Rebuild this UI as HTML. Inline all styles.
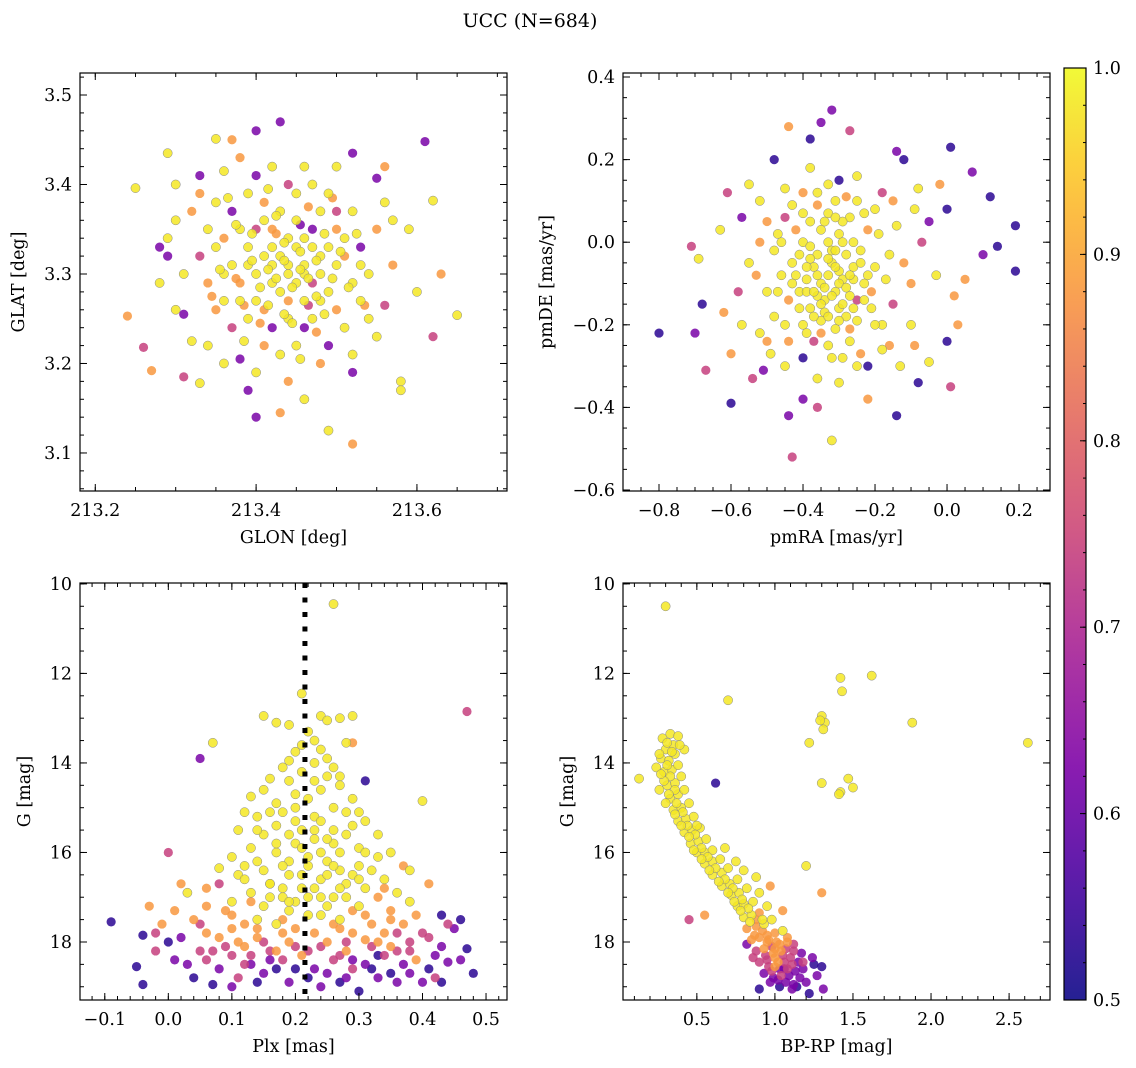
<!DOCTYPE html>
<html><head><meta charset="utf-8">
<style>
body{margin:0;background:#fff;}
svg{display:block;font-family:"DejaVu Serif","Liberation Serif",serif;}
</style></head>
<body>
<svg id="fig" width="1136" height="1068" viewBox="0 0 1136 1068">
<text x="530" y="27" text-anchor="middle" font-size="19">UCC (N=684)</text>
<g id="layer"></g>
</svg>
<script>
const Y=0.98,O=0.88,M=0.74,P=0.62,D=0.53;
const p1pts=[[213.25,3.396,Y],[213.24,3.253,O],[213.27,3.192,O],[213.26,3.218,M],[213.29,3.435,Y],[213.28,3.33,P],[213.31,3.185,M],[213.33,3.178,Y],[213.35,3.451,Y],[213.37,3.45,O],[213.40,3.46,P],[213.43,3.47,P],[213.40,3.14,P],[213.43,3.145,O],[213.49,3.125,Y],[213.52,3.11,O],[213.58,3.18,Y],[213.61,3.448,P],[213.65,3.254,Y],[213.62,3.382,Y],[213.63,3.30,O],[213.56,3.42,O],[213.52,3.435,P],[213.55,3.407,P],[213.57,3.36,Y],[213.59,3.35,Y],[213.62,3.23,M],[213.56,3.265,M],[213.52,3.19,P],[213.30,3.26,Y],[213.31,3.255,P],[213.29,3.32,P],[213.32,3.37,O],[213.35,3.33,Y],[213.38,3.205,P],[213.39,3.17,P],[213.46,3.16,Y],[213.48,3.20,O],[213.55,3.23,Y],[213.32,3.225,Y],[213.30,3.40,Y],[213.33,3.41,P],[213.36,3.415,Y],[213.38,3.43,O],[213.42,3.42,Y],[213.46,3.42,Y],[213.49,3.39,Y],[213.50,3.37,M],[213.58,3.17,Y],[213.60,3.28,Y],[213.54,3.30,Y],[213.53,3.33,P],[213.34,3.29,O],[213.36,3.27,Y],[213.37,3.24,M],[213.34,3.35,Y],[213.31,3.30,Y],[213.29,3.34,Y],[213.33,3.32,M],
[213.40,3.30,Y],[213.42,3.31,Y],[213.44,3.30,Y],[213.46,3.31,Y],[213.45,3.29,Y],[213.43,3.28,Y],[213.41,3.32,Y],[213.47,3.33,Y],[213.44,3.34,Y],[213.42,3.35,O],[213.48,3.30,Y],[213.50,3.31,Y],[213.49,3.28,Y],[213.46,3.27,Y],[213.40,3.27,Y],[213.38,3.29,O],[213.39,3.33,Y],[213.41,3.36,Y],[213.45,3.36,Y],[213.47,3.35,P],[213.51,3.34,Y],[213.52,3.29,Y],[213.50,3.26,O],[213.47,3.25,Y],[213.44,3.25,Y],[213.42,3.24,P],[213.39,3.25,Y],[213.37,3.31,Y],[213.36,3.34,O],[213.43,3.32,Y],[213.45,3.33,Y],[213.47,3.29,M],[213.44,3.27,O],[213.42,3.29,Y],[213.48,3.32,Y],[213.46,3.34,Y],[213.43,3.37,Y],[213.41,3.38,O],[213.45,3.39,Y],[213.48,3.37,Y],[213.50,3.35,O],[213.53,3.27,Y],[213.51,3.24,Y],[213.49,3.22,P],[213.45,3.22,Y],[213.41,3.22,O],[213.38,3.27,Y],[213.35,3.26,O],[213.37,3.37,P],[213.39,3.39,Y],[213.44,3.40,M],[213.47,3.40,Y],[213.52,3.37,Y],[213.55,3.35,O],[213.54,3.25,Y],[213.40,3.35,M],[213.46,3.24,P],[213.43,3.21,Y],[213.48,3.27,Y],[213.41,3.26,O],[213.44,3.31,Y],[213.46,3.30,Y],[213.42,3.33,Y],[213.39,3.31,Y],[213.36,3.30,Y],[213.38,3.35,Y],[213.49,3.33,Y],[213.51,3.32,O],[213.53,3.31,Y],[213.35,3.38,Y],[213.33,3.39,O],[213.40,3.41,P],[213.50,3.42,Y],[213.30,3.36,Y],[213.28,3.29,Y],[213.57,3.31,O],[213.56,3.38,Y],[213.34,3.22,Y],[213.52,3.21,Y],[213.40,3.19,Y],[213.44,3.18,O],[213.36,3.20,Y],
[213.415,3.305,Y],[213.435,3.315,Y],[213.455,3.305,Y],[213.425,3.295,Y],[213.445,3.285,Y],[213.465,3.295,Y],[213.405,3.285,Y],[213.475,3.315,Y],[213.435,3.335,Y],[213.455,3.325,Y],[213.425,3.345,O],[213.485,3.345,Y],[213.395,3.315,Y],[213.375,3.295,O],[213.495,3.295,Y],[213.505,3.325,Y],[213.415,3.265,Y],[213.465,3.265,M],[213.435,3.255,Y],[213.485,3.255,Y],[213.395,3.345,Y],[213.455,3.355,P],[213.475,3.275,Y],[213.385,3.265,O],[213.425,3.365,Y],[213.465,3.375,O],[213.515,3.285,Y],[213.445,3.245,Y],[213.405,3.245,O],[213.375,3.355,Y],[213.355,3.305,Y],[213.345,3.275,O],[213.525,3.345,Y],[213.415,3.395,Y],[213.475,3.235,O],[213.365,3.385,Y],[213.495,3.385,O],[213.535,3.265,O],[213.385,3.225,Y],[213.455,3.205,Y]];

const p2pts=[[-0.8,-0.22,D],[-0.7,-0.22,P],[-0.67,-0.31,M],[-0.68,-0.15,D],[-0.69,-0.04,Y],[-0.71,-0.01,M],[-0.63,0.03,Y],[-0.61,0.12,M],[-0.55,0.14,Y],[-0.48,0.2,D],[-0.44,0.28,O],[-0.38,0.25,D],[-0.35,0.29,P],[-0.32,0.32,P],[-0.27,0.27,M],[-0.14,0.22,P],[-0.12,0.2,D],[0.01,0.23,D],[0.07,0.17,P],[0.12,0.11,D],[0.19,0.04,D],[0.19,-0.07,D],[0.14,-0.01,D],[0.1,-0.03,P],[0.05,-0.09,O],[0.02,-0.13,O],[0.03,-0.2,O],[0.0,-0.24,D],[0.01,-0.35,M],[-0.05,-0.29,Y],[-0.08,-0.34,D],[-0.14,-0.42,D],[-0.32,-0.48,Y],[-0.43,-0.52,M],[-0.44,-0.42,P],[-0.4,-0.38,P],[-0.36,-0.4,M],[-0.51,-0.31,P],[-0.54,-0.33,M],[-0.6,-0.39,D],[-0.6,-0.27,O],[-0.57,-0.2,Y],[-0.5,-0.24,O],[-0.22,-0.38,O],[-0.22,-0.3,D],[-0.1,-0.2,Y],[-0.03,-0.08,Y],[0.0,0.08,D],[-0.57,0.06,P],[-0.52,0.1,Y],[-0.45,0.06,M],[-0.4,0.12,O],[-0.3,0.15,D],[-0.25,0.16,Y],[-0.18,0.12,M],[-0.15,0.1,O],[-0.08,0.13,Y],[-0.05,0.05,P],[-0.12,-0.05,O],[-0.15,-0.15,M],[-0.18,-0.26,Y],[-0.3,-0.34,Y],[-0.4,-0.28,D],[-0.48,-0.18,Y],[-0.53,-0.08,O],[-0.58,-0.12,M],[-0.47,0.02,Y],
[-0.35,-0.1,Y],[-0.33,-0.08,Y],[-0.31,-0.12,Y],[-0.29,-0.09,Y],[-0.37,-0.06,Y],[-0.34,-0.14,Y],[-0.3,-0.16,Y],[-0.27,-0.13,Y],[-0.26,-0.06,Y],[-0.28,-0.03,Y],[-0.32,-0.02,Y],[-0.36,-0.03,Y],[-0.39,-0.09,Y],[-0.41,-0.12,Y],[-0.38,-0.16,Y],[-0.35,-0.19,Y],[-0.31,-0.21,Y],[-0.25,-0.19,Y],[-0.23,-0.1,Y],[-0.24,-0.02,Y],[-0.3,0.02,Y],[-0.35,0.03,Y],[-0.4,0.0,Y],[-0.43,-0.05,Y],[-0.44,-0.14,O],[-0.4,-0.2,Y],[-0.33,-0.25,Y],[-0.27,-0.24,Y],[-0.21,-0.16,Y],[-0.2,-0.06,Y],[-0.22,0.03,O],[-0.27,0.06,Y],[-0.33,0.07,Y],[-0.38,0.05,Y],[-0.42,0.03,O],[-0.46,-0.08,Y],[-0.45,-0.2,Y],[-0.37,-0.24,M],[-0.29,-0.28,Y],[-0.24,-0.27,O],[-0.18,-0.2,Y],[-0.17,-0.09,Y],[-0.19,0.02,Y],[-0.25,0.1,Y],[-0.31,0.1,Y],[-0.36,0.09,O],[-0.43,0.09,Y],[-0.48,-0.02,Y],[-0.5,-0.12,Y],[-0.32,-0.05,Y],[-0.34,-0.17,Y],[-0.28,-0.18,Y],[-0.25,-0.14,M],[-0.39,-0.12,Y],[-0.36,-0.13,Y],[-0.3,-0.07,Y],[-0.26,-0.09,Y],[-0.33,0.0,Y],[-0.29,0.05,Y],[-0.38,-0.04,Y],[-0.42,-0.08,Y],[-0.35,-0.22,O],[-0.26,0.0,Y],[-0.21,-0.12,O],[-0.16,-0.03,Y],[-0.14,0.04,Y],[-0.1,-0.1,O],[-0.52,0.0,O],[-0.55,-0.05,Y],[-0.5,0.05,O],[-0.45,0.13,Y],[-0.38,0.18,Y],[-0.33,0.14,Y],[-0.2,0.08,Y],[-0.16,-0.25,O],[-0.13,-0.3,Y],[-0.09,-0.25,O],[-0.45,-0.3,Y],[-0.36,-0.33,Y],[-0.52,-0.22,Y],[-0.62,-0.17,O],[-0.07,0.0,M],[-0.02,0.14,O],[-0.09,0.08,Y],
[-0.34,-0.11,Y],[-0.32,-0.13,Y],[-0.3,-0.1,Y],[-0.36,-0.08,Y],[-0.28,-0.11,Y],[-0.33,-0.04,Y],[-0.31,-0.06,Y],[-0.37,-0.12,Y],[-0.35,-0.15,Y],[-0.29,-0.15,Y],[-0.27,-0.08,Y],[-0.39,-0.06,Y],[-0.33,-0.18,Y],[-0.31,-0.02,Y],[-0.37,-0.18,Y],[-0.26,-0.16,Y],[-0.41,-0.03,Y],[-0.24,-0.05,Y],[-0.38,-0.01,Y],[-0.29,0.0,Y],[-0.34,0.05,Y],[-0.3,-0.19,Y],[-0.41,-0.16,Y],[-0.43,-0.1,Y],[-0.23,-0.14,Y],[-0.27,-0.21,O],[-0.39,-0.22,Y],[-0.32,-0.28,Y],[-0.44,-0.24,O],[-0.47,-0.12,Y],[-0.46,0.0,Y],[-0.4,0.07,Y],[-0.31,0.06,Y],[-0.22,-0.08,Y],[-0.2,-0.2,Y],[-0.25,-0.3,Y],[-0.36,0.12,Y],[-0.28,0.11,O],[-0.23,0.07,Y],[-0.49,-0.27,Y]];

const p3pts=[[0.26,10.45,Y],[0.47,12.85,M],[0.07,13.55,Y],[0.05,13.9,P],[0.0,16.0,M],[0.31,14.4,D],[0.4,14.85,Y],[0.15,12.95,Y],[0.17,13.1,Y],[0.19,13.15,Y],[0.21,12.45,Y],[0.24,12.95,Y],[0.25,13.05,Y],[0.27,13.0,Y],[0.29,12.95,Y],[0.28,13.55,Y],[0.29,13.55,O],[0.22,13.3,Y],[0.23,13.5,Y],[0.24,13.7,Y],[0.25,13.9,Y],[0.2,13.75,Y],[0.19,13.95,Y],[0.18,14.1,Y],[0.21,14.2,Y],[0.26,14.1,Y],[0.27,14.3,Y],[0.23,14.4,Y],[0.19,14.4,Y],[0.16,14.35,Y],[0.15,14.6,Y],[0.13,14.75,Y],[0.12,15.1,Y],[0.11,15.5,Y],[0.14,15.2,Y],[0.17,14.9,Y],[0.2,14.7,Y],[0.24,14.6,Y],[0.27,14.5,Y],[0.29,14.8,Y],[0.28,15.1,Y],[0.26,15.0,Y],[0.23,15.2,Y],[0.2,15.3,Y],[0.17,15.4,Y],[0.15,15.6,Y],[0.13,15.9,Y],[0.1,16.1,Y],[0.08,16.35,Y],[0.11,16.5,Y],[0.14,16.2,Y],[0.17,16.0,Y],[0.2,15.8,Y],[0.23,15.7,Y],[0.26,15.5,Y],[0.29,15.4,Y],[0.31,15.3,Y],[0.33,15.6,Y],[0.3,15.9,Y],[0.27,16.0,Y],[0.25,16.2,Y],[0.22,16.3,Y],[0.19,16.5,Y],[0.16,16.7,Y],[0.13,16.9,Y],[0.1,17.1,Y],[0.15,17.2,Y],[0.18,17.0,Y],[0.21,16.8,Y],[0.24,16.6,Y],[0.27,16.4,Y],[0.3,16.3,Y],[0.33,16.1,Y],[0.35,16.0,Y],[0.37,16.3,O],[0.34,16.6,Y],[0.31,16.8,Y],[0.28,17.0,Y],[0.25,17.2,Y],[0.22,17.4,Y],[0.19,17.3,Y],[0.17,17.6,Y],[0.12,17.6,O],[0.09,17.3,O],[0.06,17.8,O],[0.27,17.5,Y],[0.3,17.2,Y],[0.33,17.0,O],[0.36,16.9,Y],[0.38,17.1,Y],[0.39,17.4,O],[0.35,17.5,O],[0.32,17.6,O],[0.23,17.8,O],[0.2,17.7,O],[0.14,17.9,O],[0.11,18.0,O],[0.05,17.6,M],[0.02,17.9,P],[-0.02,17.8,M],[-0.04,17.85,D],[-0.09,17.55,D],[-0.05,18.55,D],[-0.04,18.95,D],[-0.02,18.2,M],[0.0,18.0,D],[0.03,18.5,P],[0.06,18.4,M],[0.08,18.6,P],[0.1,18.3,M],[0.12,18.1,O],[0.13,18.5,P],[0.15,18.7,P],[0.16,18.2,M],[0.18,18.4,M],[0.19,18.9,P],[0.21,18.3,O],[0.23,18.6,P],[0.24,18.1,M],[0.25,18.7,P],[0.26,18.4,M],[0.27,18.9,D],[0.28,18.2,O],[0.29,18.6,M],[0.31,18.5,P],[0.32,18.1,M],[0.33,18.8,P],[0.34,18.3,M],[0.35,18.7,D],[0.36,18.2,M],[0.37,18.5,P],[0.38,18.0,M],[0.39,18.4,O],[0.4,18.9,P],[0.41,17.9,M],[0.42,18.3,P],[0.43,17.4,D],[0.44,17.6,M],[0.45,17.7,P],[0.46,17.5,D],[0.47,18.15,D],[0.48,18.7,D],[0.44,18.45,P],[0.41,18.6,D],[0.3,19.1,D],[0.31,17.95,O],[0.29,17.8,O],[0.07,18.95,D],[0.03,16.9,Y],[0.06,16.8,O],[0.01,17.3,O],[-0.03,17.2,O],[0.02,16.7,O],[0.08,16.7,M],[0.1,17.4,O],[0.14,17.5,Y],[0.12,16.6,Y],[0.35,17.3,O],[0.37,17.6,O],[0.4,17.8,M],[0.38,16.4,Y],[0.41,16.7,O],[0.17,15.8,Y],[0.18,15.1,Y],[0.21,15.5,Y],[0.24,15.3,Y],[0.26,15.8,Y],[0.22,16.1,Y],[0.19,16.2,Y],[0.25,16.5,Y],[0.28,16.7,Y],[0.16,16.7,Y],[0.2,17.1,Y],[0.24,17.0,Y],[0.26,17.6,O],[0.18,17.8,O],[0.15,18.0,M],[0.09,18.1,M],[0.2,18.1,M],[0.22,18.8,D],[0.17,18.6,D],[0.11,18.8,M],[0.05,18.2,M],[0.34,17.8,O],[0.28,18.0,M],[0.33,18.3,D],[0.36,18.9,P],[0.42,18.8,M],[0.43,18.1,P],
[0.21,13.6,Y],[0.23,14.0,Y],[0.22,14.8,Y],[0.25,14.3,Y],[0.2,15.0,Y],[0.23,15.5,Y],[0.19,15.6,Y],[0.25,15.7,Y],[0.21,15.9,Y],[0.18,16.3,Y],[0.24,16.0,Y],[0.26,16.3,Y],[0.21,16.5,Y],[0.23,16.8,Y],[0.18,16.8,Y],[0.15,16.4,Y],[0.27,16.8,Y],[0.29,16.5,Y],[0.31,16.0,Y],[0.3,16.6,Y],[0.32,16.4,Y],[0.14,15.5,Y],[0.16,15.1,Y],[0.28,15.6,Y],[0.3,15.1,Y],[0.22,17.0,Y],[0.19,17.1,Y],[0.26,17.0,Y],[0.16,17.0,Y],[0.13,17.1,O],[0.12,16.3,Y],[0.34,16.8,O],[0.29,17.3,O],[0.24,17.4,Y],[0.18,17.5,O],[0.14,17.7,O],[0.08,17.9,O],[0.04,17.5,O],[0.1,17.7,O],[0.27,17.7,O],[0.31,17.4,O],[0.36,17.8,M],[0.38,18.2,M],[0.33,18.0,O],[0.25,18.0,O],[0.22,18.2,M],[0.17,18.2,O],[0.13,18.3,M],[0.07,18.2,M],[0.01,18.4,P],[0.04,18.8,D],[0.1,19.0,P],[0.14,18.9,D],[0.2,18.6,D],[0.24,19.0,P],[0.28,18.8,P],[0.32,18.6,D],[0.38,18.7,P],[0.43,18.9,D],[0.46,18.4,P],[0.35,18.1,O],[0.27,18.3,M],[0.19,18.0,O],[0.12,18.5,M],[-0.01,17.6,O],[0.06,17.2,O],[0.16,18.4,P],[0.29,18.4,P]];

const p4pts=[[0.3,10.5,Y],[0.7,12.6,Y],[1.42,12.1,Y],[1.62,12.05,Y],[1.43,12.4,Y],[1.3,12.95,Y],[1.32,13.1,Y],[1.31,13.25,Y],[1.29,13.05,Y],[1.88,13.1,Y],[2.62,13.55,Y],[1.22,13.55,Y],[1.47,14.35,Y],[1.5,14.55,Y],[1.42,14.65,Y],[1.3,14.45,Y],[1.41,14.7,Y],[1.2,16.3,Y],[1.3,16.9,O],[0.45,17.5,M],[0.55,17.4,O],[0.62,14.45,D],[0.13,14.35,Y],
[0.28,13.45,Y],[0.33,13.35,Y],[0.38,13.4,Y],[0.3,13.7,Y],[0.35,13.6,Y],[0.27,13.9,Y],[0.32,13.95,Y],[0.36,13.8,Y],[0.29,14.2,Y],[0.34,14.15,Y],[0.38,14.05,Y],[0.31,14.5,Y],[0.36,14.45,Y],[0.4,14.3,Y],[0.33,14.8,Y],[0.38,14.7,Y],[0.42,14.6,Y],[0.35,15.05,Y],[0.4,15.0,Y],[0.45,14.9,Y],[0.38,15.3,Y],[0.43,15.25,Y],[0.48,15.2,Y],[0.42,15.55,Y],[0.47,15.5,Y],[0.52,15.45,Y],[0.46,15.8,Y],[0.51,15.75,Y],[0.56,15.7,Y],[0.5,16.0,Y],[0.55,16.0,Y],[0.6,15.95,Y],[0.55,16.25,Y],[0.6,16.2,Y],[0.65,16.15,Y],[0.6,16.5,Y],[0.66,16.45,Y],[0.7,16.35,Y],[0.66,16.75,Y],[0.71,16.7,Y],[0.76,16.6,Y],[0.72,16.95,Y],[0.77,16.9,Y],[0.82,16.8,Y],[0.76,17.2,Y],[0.8,17.15,Y],[0.86,17.1,Y],[0.8,17.45,Y],[0.85,17.4,Y],[0.9,17.35,O],[0.82,17.7,O],[0.88,17.65,O],[0.93,17.6,Y],[0.98,17.5,Y],[0.85,17.95,O],[0.9,17.9,O],[0.95,17.85,O],[1.0,17.8,O],[1.05,17.75,Y],[0.82,18.05,P],[0.88,18.2,M],[0.93,18.15,O],[0.98,18.1,M],[1.03,18.05,O],[1.08,18.0,O],[1.12,18.2,M],[0.9,18.45,M],[0.95,18.4,M],[1.0,18.35,O],[1.05,18.3,M],[1.1,18.35,M],[1.15,18.45,P],[0.93,18.7,P],[0.98,18.65,M],[1.03,18.6,P],[1.08,18.6,M],[1.13,18.65,P],[1.18,18.6,P],[1.25,18.5,D],[0.97,18.9,P],[1.02,18.85,P],[1.07,18.9,P],[1.12,18.95,P],[1.2,18.9,P],[0.9,19.05,D],[1.03,19.0,D],[1.11,19.05,P],[1.22,19.15,D],[1.31,19.05,P],[1.3,18.55,D],[0.75,16.2,Y],[0.8,16.4,Y],[0.9,16.9,Y],[0.95,17.2,Y],[0.97,16.75,O],[1.05,17.3,O],[0.88,16.55,Y],[0.68,15.9,Y],[0.5,15.4,Y],[0.3,14.9,Y],[0.26,14.6,Y],[0.42,13.7,Y],[0.24,14.1,Y],[1.0,18.55,O],[1.07,18.15,M],[0.92,17.5,Y],
[0.31,13.55,Y],[0.34,13.75,Y],[0.31,14.05,Y],[0.33,14.3,Y],[0.36,14.6,Y],[0.37,14.9,Y],[0.41,15.1,Y],[0.44,15.4,Y],[0.49,15.6,Y],[0.53,15.9,Y],[0.57,16.1,Y],[0.62,16.35,Y],[0.68,16.6,Y],[0.73,16.8,Y],[0.79,17.05,Y],[0.83,17.25,Y],[0.88,17.5,O],[0.92,17.75,O],[0.96,17.95,O],[1.01,18.0,O],[1.04,18.2,O],[0.94,18.3,M],[0.99,18.25,O],[1.06,18.45,M],[1.11,18.5,M],[1.02,18.45,O],[0.96,18.55,M],[1.09,18.75,P],[1.16,18.8,P],[1.04,18.75,M],[0.99,18.8,P],[1.14,19.0,D],[1.27,18.75,P],[0.87,17.85,O],[0.84,17.55,Y],[0.78,17.3,Y],[0.74,17.1,Y],[0.7,16.9,Y],[0.64,16.65,Y],[0.58,16.4,Y],[0.53,16.15,Y],[0.48,15.95,Y],[0.45,15.65,Y],[0.4,15.4,Y],[0.36,15.15,Y],[0.32,14.7,Y],[0.29,14.4,Y],[0.27,14.25,Y],[0.26,13.8,Y],[0.39,13.6,Y],[1.08,17.9,O],[1.12,18.05,M],[1.17,18.25,P],[0.86,18.35,M],[1.24,18.35,P],[1.18,18.45,M],[1.06,18.6,P],[0.95,18.0,O],[1.0,18.15,O]];

const PL=[[0,[13,8,135]],[0.13,[75,3,161]],[0.25,[125,3,168]],[0.38,[168,34,150]],[0.5,[203,70,121]],[0.63,[229,107,93]],[0.75,[248,148,65]],[0.88,[253,195,40]],[1,[240,249,33]]];
function plasma(t){t=Math.max(0,Math.min(1,t));for(let i=1;i<PL.length;i++){if(t<=PL[i][0]){const a=PL[i-1],b=PL[i],f=(t-a[0])/(b[0]-a[0]);return 'rgb('+a[1].map((v,k)=>Math.round(v+(b[1][k]-v)*f)).join(',')+')';}}return 'rgb(240,249,33)';}
const NS='http://www.w3.org/2000/svg';
const layer=document.getElementById('layer');
const FS=17.5;
function mk(tag,attrs,parent){const e=document.createElementNS(NS,tag);for(const k in attrs)e.setAttribute(k,attrs[k]);(parent||layer).appendChild(e);return e;}
function fmt(v,d){let s=v.toFixed(d);if(s.startsWith('-'))s='\u2212'+s.slice(1);return s;}

function panel(o){
  const g=mk('g',{});
  
  
  const sx=v=>o.L+(v-o.x0)/(o.x1-o.x0)*(o.R-o.L);
  const sy=v=>o.T+(v-o.y0)/(o.y1-o.y0)*(o.B-o.T);
  const pts=mk('g',{},g);
  const sorted=o.pts.slice().sort((a,b)=>a[2]-b[2]);
  sorted.forEach(p=>{
    const c=mk('circle',{cx:sx(p[0]),cy:sy(p[1]),r:4.6,fill:plasma((p[2]-0.5)/0.5),'fill-opacity':0.85,stroke:p[2]>0.95?'#888':'none','stroke-width':0.5},pts);
    
    
  });
  if(o.vline!==undefined){
    const l=mk('line',{x1:sx(o.vline),x2:sx(o.vline),y1:o.T,y2:o.B,stroke:'#000','stroke-width':5,'stroke-dasharray':'5 9.5'},g);
    
    
  }
  const fr=mk('rect',{x:o.L,y:o.T,width:o.R-o.L,height:o.B-o.T,fill:'none',stroke:'#000','stroke-width':1.2},g);
  
  
  const tk=(v,maj,axis)=>{const len=maj?7:4;
    if(axis==='x'){const x=sx(v);mk('line',{x1:x,x2:x,y1:o.B,y2:o.B-len,stroke:'#000','stroke-width':1},g);mk('line',{x1:x,x2:x,y1:o.T,y2:o.T+len,stroke:'#000','stroke-width':1},g);}
    else{const y=sy(v);mk('line',{y1:y,y2:y,x1:o.L,x2:o.L+len,stroke:'#000','stroke-width':1},g);mk('line',{y1:y,y2:y,x1:o.R,x2:o.R-len,stroke:'#000','stroke-width':1},g);}};
  const xa=Math.min(o.x0,o.x1),xb=Math.max(o.x0,o.x1),ya=Math.min(o.y0,o.y1),yb=Math.max(o.y0,o.y1);
  for(let v=Math.ceil(xa/o.xmin-1e-6)*o.xmin;v<=xb+1e-9;v+=o.xmin)tk(v,false,'x');
  for(let v=Math.ceil(ya/o.ymin-1e-6)*o.ymin;v<=yb+1e-9;v+=o.ymin)tk(v,false,'y');
  o.xt.forEach(v=>{tk(v,true,'x');const t=mk('text',{x:sx(v),y:o.B+25,'text-anchor':'middle','font-size':FS},g);t.textContent=fmt(v,o.xd);});
  o.yt.forEach(v=>{tk(v,true,'y');const t=mk('text',{x:o.L-8,y:sy(v)+6,'text-anchor':'end','font-size':FS},g);t.textContent=fmt(v,o.yd);});
  const xl=mk('text',{x:(o.L+o.R)/2,y:o.B+52,'text-anchor':'middle','font-size':FS},g);xl.textContent=o.xlab;
  
  const yx=o.ylx,yy=(o.T+o.B)/2;
  const yl=mk('text',{x:yx,y:yy,'text-anchor':'middle','font-size':FS,transform:`rotate(-90 ${yx} ${yy})`},g);yl.textContent=o.ylab;
  
}

panel({name:'glon-glat-panel',L:80,R:507,T:73,B:491,x0:213.181,x1:213.712,y0:3.5246,y1:3.0575,pts:p1pts,xt:[213.2,213.4,213.6],xd:1,yt:[3.1,3.2,3.3,3.4,3.5],yd:1,xmin:0.05,ymin:0.02,xlab:'GLON [deg]',ylab:'GLAT [deg]',ylx:24});
panel({name:'proper-motion-panel',L:623,R:1050,T:73,B:491,x0:-0.9,x1:0.286,y0:0.4097,y1:-0.6024,pts:p2pts,xt:[-0.8,-0.6,-0.4,-0.2,0.0,0.2],xd:1,yt:[-0.6,-0.4,-0.2,0.0,0.2,0.4],yd:1,xmin:0.05,ymin:0.05,xlab:'pmRA [mas/yr]',ylab:'pmDE [mas/yr]',ylx:552});
panel({name:'parallax-magnitude-panel',L:80,R:507,T:583,B:1000,x0:-0.139,x1:0.533,y0:9.98,y1:19.296,pts:p3pts,xt:[-0.1,0,0.1,0.2,0.3,0.4,0.5],xd:1,yt:[10,12,14,16,18],yd:0,xmin:0.02,ymin:0.5,xlab:'Plx [mas]',ylab:'G [mag]',ylx:30,vline:0.215});
panel({name:'color-magnitude-panel',L:623,R:1050,T:583,B:1000,x0:0.027,x1:2.762,y0:9.98,y1:19.296,pts:p4pts,xt:[0.5,1.0,1.5,2.0,2.5],xd:1,yt:[10,12,14,16,18],yd:0,xmin:0.1,ymin:0.5,xlab:'BP-RP [mag]',ylab:'G [mag]',ylx:573});

// colorbar
const cbTicks=[0.5,0.6,0.7,0.8,0.9,1.0];
const cb=mk('g',{});


const defs=mk('defs',{},cb);
const gr=mk('linearGradient',{id:'cbg',x1:0,y1:1,x2:0,y2:0},defs);
for(let i=0;i<=20;i++){mk('stop',{offset:i/20,'stop-color':plasma(i/20),'stop-opacity':0.9},gr);}
const cT=68,cB=1000,cL=1064,cR=1086;
mk('rect',{x:cL,y:cT,width:cR-cL,height:cB-cT,fill:'url(#cbg)',stroke:'#000','stroke-width':1.2},cb);
const cy=v=>cB-(v-0.5)/0.5*(cB-cT);
for(let v=0.5;v<=1.0001;v+=0.02){mk('line',{x1:cR,x2:cR-3,y1:cy(v),y2:cy(v),stroke:'#000','stroke-width':1},cb);}
cbTicks.forEach(v=>{mk('line',{x1:cR,x2:cR-6,y1:cy(v),y2:cy(v),stroke:'#000','stroke-width':1},cb);
  const t=mk('text',{x:cR+7,y:cy(v)+6,'font-size':FS},cb);t.textContent=v.toFixed(1);
  });
</script>
</body></html>
